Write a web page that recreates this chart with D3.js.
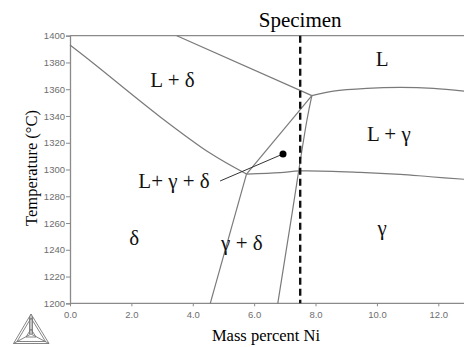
<!DOCTYPE html>
<html>
<head>
<meta charset="utf-8">
<script src="https://cdn.jsdelivr.net/npm/d3@7"></script>
<style>
  body { margin: 0; background: #fff; }
  svg { display: block; }
</style>
</head>
<body>
<div id="chart"></div>
<script>
// tick values
const xTicks = [0, 2, 4, 6, 8, 10, 12];
const yTicks = [1200, 1220, 1240, 1260, 1280, 1300, 1320, 1340, 1360, 1380, 1400];

// phase boundaries [mass % Ni, temperature °C]
const deltaSolvus = [[0, 1393], [0.76, 1379.4], [2.93, 1339.5], [4.56, 1312.3], [5.75, 1296.6]];
const deltaLiquidus = [[3.48, 1400], [7.88, 1355.2]];
const gammaLiquidus = [[7.88, 1355.2], [8.58, 1358.6], [9.67, 1360.7], [10.76, 1361.4], [11.84, 1360.7], [12.85, 1358.6]];
const gammaSolidus = [[5.75, 1296.6], [6.85, 1297.6], [7.5, 1298.9], [9.46, 1297.9], [10.76, 1296.4], [11.74, 1294.6], [12.85, 1292.7]];
const peritecticLine = [[7.88, 1355.2], [5.75, 1296.6]];
const gammaDeltaLeft = [[5.75, 1296.6], [4.57, 1200]];
const gammaDeltaRight = [[7.88, 1355.2], [7.72, 1337], [7.2, 1262], [6.77, 1200]];
const boundaries = [deltaSolvus, deltaLiquidus, gammaLiquidus, gammaSolidus, peritecticLine, gammaDeltaLeft, gammaDeltaRight];

// specimen composition and marked point
const specimenNi = 7.5;
const markPoint = [6.94, 1311.6];
const leaderStart = [4.89, 1291.4];

// phase region labels
const regionNames = ["L + δ", "L", "L + γ", "L+ γ + δ", "δ", "γ + δ", "γ"];
const regionAnchors = [[3.34, 1361.9], [10.17, 1377.4], [10.39, 1321.3], [3.39, 1285.9], [2.09, 1243.6], [5.6, 1239.8], [10.17, 1251.3]];

const W = 464, H = 347;
const svg = d3.select("#chart").append("svg")
  .attr("width", W).attr("height", H);

const x = d3.scaleLinear().domain([0, 12.85]).range([70, 464.4]);
const y = d3.scaleLinear().domain([1200, 1400]).range([303.3, 35.7]);

const axisColor = "#8a8a8a";
const lineColor = "#7a7a7a";

// frame top
svg.append("line")
  .attr("x1", x(0)).attr("x2", W)
  .attr("y1", y(1400)).attr("y2", y(1400))
  .attr("stroke", axisColor).attr("stroke-width", 1.3);

// axes
const xAxis = svg.append("g")
  .attr("transform", `translate(0,${y(1200)})`)
  .call(d3.axisBottom(x).tickValues(xTicks).tickFormat(d3.format(".1f")).tickSize(3).tickPadding(5));
const yAxis = svg.append("g")
  .attr("transform", `translate(${x(0)},0)`)
  .call(d3.axisLeft(y).tickValues(yTicks).tickFormat(d3.format("d")).tickSize(4).tickPadding(1));

[xAxis, yAxis].forEach(g => {
  g.select(".domain").attr("stroke", axisColor).attr("stroke-width", 1.3);
  g.selectAll(".tick line").attr("stroke", axisColor);
  g.selectAll(".tick text")
    .attr("fill", "#6e6e6e")
    .style("font-family", "'Liberation Sans', Arial, sans-serif")
    .style("font-size", "9.5px");
});
xAxis.select(".domain").attr("d", `M${x(0)},0H${W}`);

// boundaries
const line = d3.line()
  .x(d => x(d[0]))
  .y(d => y(d[1]))
  .curve(d3.curveCatmullRom);

svg.append("g")
  .selectAll("path")
  .data(boundaries)
  .join("path")
  .attr("d", line)
  .attr("fill", "none")
  .attr("stroke", lineColor)
  .attr("stroke-width", 1.2);

// specimen line
svg.append("line")
  .attr("x1", x(specimenNi)).attr("x2", x(specimenNi))
  .attr("y1", y(1400)).attr("y2", y(1200))
  .attr("stroke", "#111")
  .attr("stroke-width", 2.4)
  .attr("stroke-dasharray", "7,4");

svg.append("text")
  .attr("x", x(specimenNi))
  .attr("y", 27)
  .attr("text-anchor", "middle")
  .style("font-family", "'Liberation Serif', 'Times New Roman', serif")
  .style("font-size", "21px")
  .text("Specimen");

// leader and point
svg.append("line")
  .attr("x1", x(leaderStart[0])).attr("y1", y(leaderStart[1]))
  .attr("x2", x(markPoint[0])).attr("y2", y(markPoint[1]))
  .attr("stroke", "#333").attr("stroke-width", 1);
svg.append("circle")
  .attr("cx", x(markPoint[0])).attr("cy", y(markPoint[1]))
  .attr("r", 3.5).attr("fill", "#000");

// region labels
svg.append("g")
  .selectAll("text")
  .data(regionNames)
  .join("text")
  .attr("x", (d, i) => x(regionAnchors[i][0]))
  .attr("y", (d, i) => y(regionAnchors[i][1]))
  .attr("text-anchor", "middle")
  .style("font-family", "'Liberation Serif', 'Times New Roman', serif")
  .style("font-size", "21px")
  .attr("fill", "#111")
  .text(d => d);

// axis titles
svg.append("text")
  .attr("x", 266).attr("y", 341)
  .attr("text-anchor", "middle")
  .style("font-family", "'Liberation Serif', 'Times New Roman', serif")
  .style("font-size", "16.5px")
  .text("Mass percent Ni");

svg.append("text")
  .attr("transform", "translate(37,168) rotate(-90)")
  .attr("text-anchor", "middle")
  .style("font-family", "'Liberation Serif', 'Times New Roman', serif")
  .style("font-size", "16.5px")
  .text("Temperature (°C)");

// logo triangle
const logo = svg.append("g").attr("fill", "none").attr("stroke", "#777").attr("stroke-width", 0.9);
const ax = 31, ay = 314, lx = 13.5, rx = 49, by = 343.5;
const cx = 31, cy = 334;
logo.append("path").attr("d", `M${ax},${ay}L${lx},${by}L${rx},${by}Z`);
logo.append("path").attr("d", `M${ax},${ay + 4}L${lx + 3.5},${by - 2}L${rx - 3.5},${by - 2}Z`);
logo.append("path").attr("d", `M${ax},${ay}L${cx},${cy}M${lx},${by}L${cx},${cy}M${rx},${by}L${cx},${cy}`);
logo.append("path").attr("d", `M${ax - 1.5},${ay + 3}L${cx - 1.5},${cy}M${ax + 1.5},${ay + 3}L${cx + 1.5},${cy}`);
logo.append("path").attr("d", `M${cx - 5},${cy + 3}L${cx + 5},${cy + 3}L${cx},${cy - 5}Z`);
</script>
</body>
</html>
